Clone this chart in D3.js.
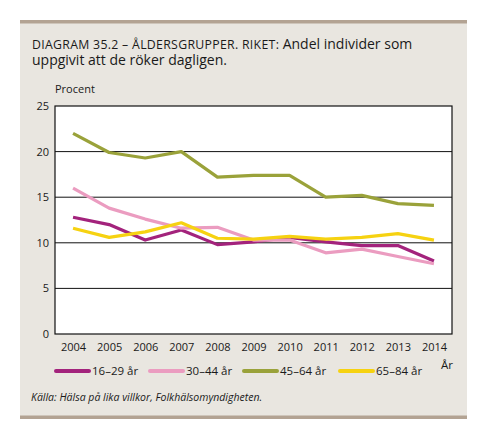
<!DOCTYPE html>
<html>
<head>
<meta charset="utf-8">
<script src="https://cdn.jsdelivr.net/npm/d3@7"></script>
<style>
  body { margin: 0; background: #fff; }
  svg text { font-family: "Open Sans", "Noto Sans", sans-serif; fill: #1a1a1a; }
</style>
</head>
<body>
<svg id="chart" width="482" height="447"></svg>
<script>
// data
var years = ["2004","2005","2006","2007","2008","2009","2010","2011","2012","2013","2014"];
var age16_29 = [12.8, 12.0, 10.3, 11.4, 9.8, 10.1, 10.6, 10.1, 9.7, 9.7, 8.0];
var age30_44 = [16.0, 13.8, 12.6, 11.6, 11.7, 10.3, 10.3, 8.9, 9.3, 8.5, 7.7];
var age45_64 = [22.0, 19.9, 19.3, 20.0, 17.2, 17.4, 17.4, 15.0, 15.2, 14.3, 14.1];
var age65_84 = [11.6, 10.6, 11.2, 12.2, 10.5, 10.4, 10.7, 10.4, 10.6, 11.0, 10.3];
var seriesNames = ["16–29 år", "30–44 år", "45–64 år", "65–84 år"];
var seriesColors = ["#a3237c", "#eb9cc0", "#9aa23a", "#f6d211"];
var yTicks = [0, 5, 10, 15, 20, 25];

var series = [age16_29, age30_44, age45_64, age65_84];

var svg = d3.select("#chart");

// panel
svg.append("rect").attr("x", 20).attr("y", 20).attr("width", 447).attr("height", 398)
    .attr("fill", "#e9e6e0");
svg.append("rect").attr("x", 20).attr("y", 20).attr("width", 447).attr("height", 3.5)
    .attr("fill", "#b3a393");
svg.append("rect").attr("x", 20).attr("y", 415.5).attr("width", 447).attr("height", 3.5)
    .attr("fill", "#b3a393");

// title
var title = svg.append("text").attr("x", 32).attr("y", 48.5).style("font-size", "14px");
title.append("tspan").text("DIAGRAM 35.2 – ÅLDERSGRUPPER. RIKET: ")
    .style("font-size", "12.3px").style("letter-spacing", "0.3px");
title.append("tspan").text("Andel individer som");
svg.append("text").attr("x", 32).attr("y", 64.5).style("font-size", "14px")
    .text("uppgivit att de röker dagligen.");

svg.append("text").attr("x", 55).attr("y", 93).style("font-size", "11px").text("Procent");

var plotLeft = 55, plotRight = 452, plotTop = 106, plotBottom = 334;

var x = d3.scalePoint().domain(years).range([plotLeft, plotRight]).padding(0.5);
var y = d3.scaleLinear().domain([0, 25]).range([plotBottom, plotTop]);

svg.append("rect").attr("x", plotLeft).attr("y", plotTop)
    .attr("width", plotRight - plotLeft).attr("height", plotBottom - plotTop)
    .attr("fill", "#fff").attr("stroke", "#111").attr("stroke-width", 1.2);

// gridlines
svg.append("g").selectAll("line").data(yTicks.slice(1, -1)).enter().append("line")
    .attr("x1", plotLeft).attr("x2", plotRight)
    .attr("y1", function(d) { return y(d); })
    .attr("y2", function(d) { return y(d); })
    .attr("stroke", "#111").attr("stroke-width", 1);

// y axis labels
var yAxis = svg.append("g").attr("transform", "translate(" + plotLeft + ",0)")
    .call(d3.axisLeft(y).tickValues(yTicks).tickSize(0).tickPadding(6));
yAxis.select(".domain").remove();
yAxis.selectAll("text").style("font-size", "11px").style("font-family", "Open Sans, sans-serif")
    .attr("fill", "#1a1a1a");

// x axis labels
var xAxis = svg.append("g").attr("transform", "translate(0," + plotBottom + ")")
    .call(d3.axisBottom(x).tickSize(0).tickPadding(9));
xAxis.select(".domain").remove();
xAxis.selectAll("text").style("font-size", "11px").style("font-family", "Open Sans, sans-serif")
    .attr("fill", "#1a1a1a");

svg.append("text").attr("x", 441).attr("y", 369).style("font-size", "11.5px").text("År");

// lines
var line = d3.line()
    .x(function(d, i) { return x(years[i]); })
    .y(function(d) { return y(d); });

svg.append("g").selectAll("path").data(series).enter().append("path")
    .attr("d", line)
    .attr("fill", "none")
    .attr("stroke", function(d, i) { return seriesColors[i]; })
    .attr("stroke-width", 3.2)
    .attr("stroke-linejoin", "round");

// legend
var legendX = [54, 148, 242, 338];
var legend = svg.append("g").selectAll("g").data(seriesNames).enter().append("g")
    .attr("transform", function(d, i) { return "translate(" + legendX[i] + ",371)"; });
legend.append("line")
    .attr("x1", 2).attr("x2", 35).attr("y1", 0).attr("y2", 0)
    .attr("stroke", function(d, i) { return seriesColors[i]; })
    .attr("stroke-width", 4).attr("stroke-linecap", "round");
legend.append("text").attr("x", 38).attr("y", 4).style("font-size", "11.5px")
    .text(function(d) { return d; });

svg.append("text").attr("x", 31).attr("y", 401).style("font-size", "10.5px")
    .style("font-style", "italic")
    .text("Källa: Hälsa på lika villkor, Folkhälsomyndigheten.");
</script>
</body>
</html>
